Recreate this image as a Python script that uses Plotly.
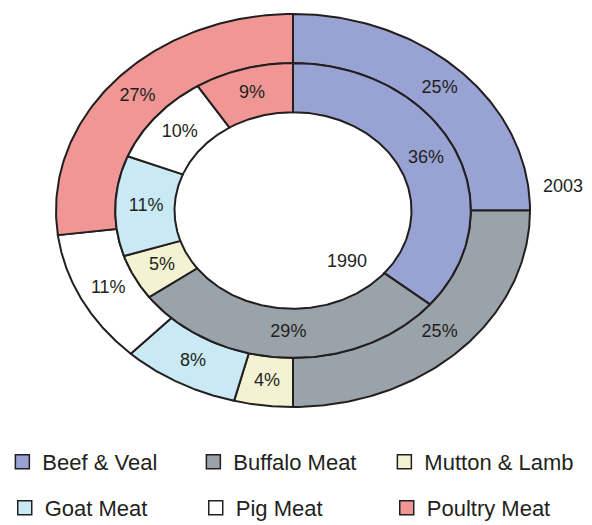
import numpy as np
import plotly.graph_objects as go

# data
categories = ["Beef & Veal", "Buffalo Meat", "Mutton & Lamb", "Goat Meat", "Pig Meat", "Poultry Meat"]
share_2003 = [25, 25, 4, 8, 11, 27]
share_1990 = [36, 29, 5, 11, 10, 9]
colors = ["#98A3D3", "#9BA3AA", "#F3F3D3", "#C9EAF4", "#FFFFFF", "#F09795"]

edge = "#231F20"
font = "Liberation Sans, Arial, sans-serif"

# ring radii (outer ring 2003, inner ring 1990)
rings = [
    ("2003", share_2003, 0.75, 1.0, 0.875),
    ("1990", share_1990, 0.5, 0.75, 0.62),
]

fig = go.Figure()

lab_x, lab_y, lab_t = [], [], []
for name, vals, r_in, r_out, r_lab in rings:
    total = float(sum(vals))
    start = 0.0
    for cat, v, col in zip(categories, vals, colors):
        a0 = start / total * 2 * np.pi
        a1 = (start + v) / total * 2 * np.pi
        t = np.linspace(a0, a1, 120)
        xs = np.concatenate([r_out * np.sin(t), r_in * np.sin(t[::-1])])
        ys = np.concatenate([r_out * np.cos(t), r_in * np.cos(t[::-1])])
        xs = np.append(xs, xs[0])
        ys = np.append(ys, ys[0])
        fig.add_trace(go.Scatter(
            x=xs, y=ys, mode="lines", fill="toself", fillcolor=col,
            line=dict(color=edge, width=2), showlegend=False, hoverinfo="skip",
        ))
        am = (a0 + a1) / 2
        lab_x.append(r_lab * np.sin(am))
        lab_y.append(r_lab * np.cos(am))
        lab_t.append(f"{v}%")
        start += v

fig.add_trace(go.Scatter(
    x=lab_x, y=lab_y, mode="text", text=lab_t,
    textfont=dict(family=font, size=18, color=edge),
    showlegend=False, hoverinfo="skip",
))

# legend entries, two rows
for i, (cat, col) in enumerate(zip(categories, colors)):
    fig.add_trace(go.Scatter(
        x=[None], y=[None], mode="markers", name=cat,
        marker=dict(symbol="square", size=14, color=col, line=dict(color=edge, width=1.5)),
        legend="legend" if i < 3 else "legend2",
    ))

fig.add_annotation(x=1.14, y=0.125, text="2003", showarrow=False,
                   font=dict(family=font, size=18, color=edge))
fig.add_annotation(x=0.228, y=-0.257, text="1990", showarrow=False,
                   font=dict(family=font, size=18, color=edge))

leg = dict(orientation="h", font=dict(family=font, size=22, color=edge),
           entrywidth=146, entrywidthmode="pixels", itemwidth=30,
           xanchor="left", yanchor="middle", bgcolor="rgba(0,0,0,0)")

fig.update_layout(
    width=592, height=525,
    margin=dict(l=0, r=0, t=0, b=0, pad=0, autoexpand=False),
    paper_bgcolor="white", plot_bgcolor="white",
    xaxis=dict(range=[-293 / 237, 299 / 237], visible=False, fixedrange=True),
    yaxis=dict(range=[-314.5 / 196.5, 210.5 / 196.5], visible=False, fixedrange=True),
    legend=dict(x=0.004, y=1 - 462 / 525, **leg),
    legend2=dict(x=0.008, y=1 - 508 / 525, **leg),
)

fig.write_html("out.html", config={"displayModeBar": False},
               post_script="document.body.style.margin='0';")
